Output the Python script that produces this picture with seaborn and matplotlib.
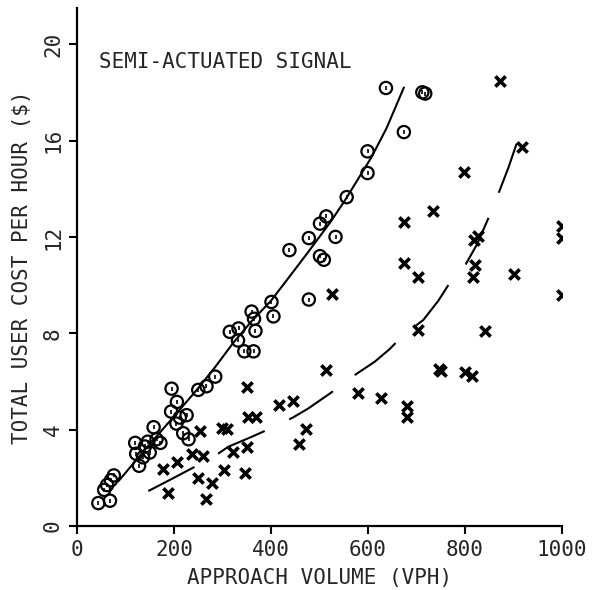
import matplotlib
matplotlib.use("Agg")
import matplotlib.pyplot as plt
import seaborn as sns
import pandas as pd

# ---- data ----
circ_x = [44, 68, 56, 62, 70, 76, 120, 122, 128, 136, 140, 146, 150, 158, 164, 172,
          195, 194, 206, 205, 212, 219, 226, 230, 250, 267, 285, 315, 333, 332, 345,
          364, 360, 368, 365, 401, 405, 438, 478, 478, 501, 514, 533, 501, 509, 556,
          599, 599, 674, 637, 712, 718]
circ_y = [0.95, 1.05, 1.5, 1.7, 1.9, 2.1, 3.45, 3.0, 2.5, 2.85, 3.3, 3.5, 3.05, 4.1,
          3.6, 3.45, 5.7, 4.75, 5.15, 4.25, 4.5, 3.85, 4.6, 3.6, 5.65, 5.8, 6.2, 8.06,
          8.2, 7.7, 7.25, 7.25, 8.9, 8.1, 8.6, 9.3, 8.7, 11.45, 9.4, 11.95, 12.55,
          12.85, 12.0, 11.2, 11.05, 13.65, 15.55, 14.65, 16.35, 18.18, 18.0, 17.95]

cross_x = [178, 188, 207, 238, 250, 254, 260, 267, 278, 298, 310, 304, 321, 346, 351,
           351, 352, 370, 417, 446, 458, 472, 513, 525, 579, 627, 680, 680, 675, 675,
           704, 704, 734, 746, 750, 798, 800, 815, 818, 826, 821, 816, 841, 873, 900,
           917, 1000, 1000, 1000]
cross_y = [2.35, 1.36, 2.67, 3.0, 1.98, 3.95, 2.9, 1.11, 1.8, 4.05, 4.03, 2.32, 3.08,
           2.18, 3.29, 5.78, 4.54, 4.52, 5.04, 5.18, 3.4, 4.01, 6.47, 9.62, 5.5, 5.3,
           5.0, 4.52, 12.6, 10.93, 10.35, 8.13, 13.06, 6.5, 6.45, 14.7, 6.4, 6.22,
           11.88, 12.03, 10.83, 10.33, 8.1, 18.48, 10.46, 15.74, 12.45, 11.95, 9.6]

solid_x = [85, 150, 200, 247, 285, 322, 360, 400, 440, 474, 522, 552, 607, 638, 674]
solid_y = [1.85, 3.4, 4.55, 5.65, 6.6, 7.6, 8.5, 9.35, 10.4, 11.3, 12.6, 13.5, 15.3, 16.5, 18.2]

dash_x = [147, 195, 243, 280, 312, 360, 410, 445, 477, 525, 573, 614, 645, 673, 714,
          745, 772, 797, 825, 850, 869, 890, 912]
dash_y = [1.45, 1.95, 2.46, 2.85, 3.29, 3.7, 4.15, 4.5, 4.88, 5.55, 6.27, 6.82, 7.35,
          7.93, 8.55, 9.35, 10.2, 10.7, 11.7, 12.86, 13.8, 14.9, 16.2]

x_ticks = [0, 200, 400, 600, 800, 1000]
y_ticks = [0, 4, 8, 12, 16, 20]
title_text = "SEMI-ACTUATED SIGNAL"
x_label = "APPROACH VOLUME (VPH)"
y_label = "TOTAL USER COST PER HOUR ($)"

# ---- style ----
sns.set_style("white")
plt.rcParams['font.family'] = ['DejaVu Sans Mono', 'DejaVu Sans']
FS = 15

fig = plt.figure(figsize=(5.92, 5.90), dpi=100)
ax = fig.add_axes([77 / 592, 1 - 526 / 590, (562 - 77) / 592, (526 - 8) / 590])

circ_df = pd.DataFrame({"x": circ_x, "y": circ_y})
cross_df = pd.DataFrame({"x": cross_x, "y": cross_y})
solid_df = pd.DataFrame({"x": solid_x, "y": solid_y})
dash_df = pd.DataFrame({"x": dash_x, "y": dash_y})

sns.lineplot(data=solid_df, x="x", y="y", ax=ax, color="black", lw=1.5,
             sort=False, estimator=None)
sns.lineplot(data=dash_df, x="x", y="y", ax=ax, color="black", lw=1.5,
             sort=False, estimator=None, dashes=False)
ax.lines[-1].set_dashes((25, 13))

sns.scatterplot(data=circ_df, x="x", y="y", ax=ax, marker="o", s=78,
                facecolor="none", edgecolor="black", linewidth=1.6, zorder=3)
sns.scatterplot(data=circ_df, x="x", y="y", ax=ax, marker="|", s=12,
                color="black", linewidth=1.2, zorder=3)
sns.scatterplot(data=cross_df, x="x", y="y", ax=ax, marker="x", s=55,
                color="black", linewidth=2.6, zorder=3)

ax.set_xlim(0, 1000)
ax.set_ylim(0, 21.5)
ax.set_xticks(x_ticks)
ax.set_yticks(y_ticks)
ax.set_xticklabels([str(t) for t in x_ticks], fontsize=FS)
ax.set_yticklabels([str(t) for t in y_ticks], fontsize=FS, rotation=90, va="center")
ax.tick_params(axis="both", direction="out", length=6, width=1.5, color="black",
               left=True, bottom=True, pad=4)
for side in ["top", "right"]:
    ax.spines[side].set_visible(False)
for side in ["left", "bottom"]:
    ax.spines[side].set_color("black")
    ax.spines[side].set_linewidth(1.6)

ax.set_xlabel(x_label, fontsize=FS, labelpad=6)
ax.set_ylabel(y_label, fontsize=FS, labelpad=8)
ax.text(45, 19.25, title_text, fontsize=FS, ha="left", va="center")

fig.savefig("out.png", dpi=100)
